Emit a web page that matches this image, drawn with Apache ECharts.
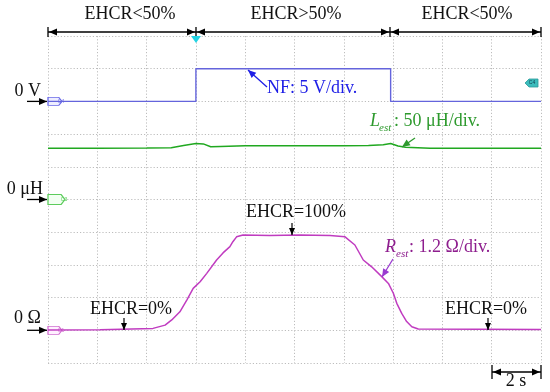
<!DOCTYPE html>
<html>
<head>
<meta charset="utf-8">
<script src="https://cdn.jsdelivr.net/npm/echarts@6/dist/echarts.min.js"></script>
<style>
html,body{margin:0;padding:0;background:#fff;}
#chart{width:550px;height:392px;}
</style>
</head>
<body>
<div id="chart"></div>
<script>
// ---- data (time in s, 2 s/div) ----
const nfTime = [0, 6.0, 6.0, 13.9, 13.9, 20];
const nfVolt = [0, 0, 5, 5, 0, 0];

const lestTime = [0, 2, 4, 5.0, 5.5, 6.0, 6.3, 6.6, 7.0, 8, 10, 12, 13.0, 13.6, 13.9, 14.2, 14.5, 15.5, 18, 20];
const lestMicroH = [78.3, 78.3, 78.6, 79, 82.6, 85.6, 85, 80.7, 81.2, 82, 82, 82, 82.6, 83.8, 85.6, 81.8, 79.8, 78.3, 78.3, 78.3];

const restTime = [0, 2.11, 4.26, 4.75, 5.02, 5.35, 5.63, 5.89, 6.17, 6.44, 6.84, 7.10, 7.38, 7.50, 7.65, 7.91, 9.0, 10.2, 11.44, 12.05, 12.45, 12.79, 13.13, 13.54, 13.81, 14.01, 14.15, 14.35, 14.55, 14.76, 15.02, 20];
const restOhm = [0.01, 0.02, 0.07, 0.19, 0.38, 0.68, 1.11, 1.54, 1.78, 2.09, 2.58, 2.84, 3.07, 3.25, 3.43, 3.50, 3.48, 3.50, 3.48, 3.43, 3.13, 2.58, 2.33, 1.97, 1.72, 1.36, 0.99, 0.62, 0.32, 0.13, 0.05, 0.03];

const regionLabels = ['EHCR<50%', 'EHCR>50%', 'EHCR<50%'];
const channelTags = ['C4', 'C3', 'C1'];

const zip = (a, b) => a.map((v, i) => [v, b[i]]);

const SERIF = '"Liberation Serif", "DejaVu Serif", serif';
const BLUE_T = '#6464dc', GREEN_T = '#20a820', MAG_T = '#c03cc0';

function head(tx, ty, fx, fy, color, len, w) {
  len = len || 8; w = w || 3.5;
  const dx = tx - fx, dy = ty - fy, L = Math.hypot(dx, dy);
  const ux = dx / L, uy = dy / L, px = -uy, py = ux;
  const bx = tx - ux * len, by = ty - uy * len;
  return { type: 'polygon', shape: { points: [[tx, ty], [bx + px * w, by + py * w], [bx - px * w, by - py * w]] }, style: { fill: color }, z: 100 };
}
function arrow(x1, y1, x2, y2, color, lw, len, w) {
  return [
    { type: 'line', shape: { x1: x1, y1: y1, x2: x2, y2: y2 }, style: { stroke: color, lineWidth: lw || 1.2 }, z: 100 },
    head(x2, y2, x1, y1, color, len, w)
  ];
}
function dbl(x1, x2, y, color) {
  return [
    { type: 'line', shape: { x1: x1, y1: y, x2: x2, y2: y }, style: { stroke: color, lineWidth: 1.3 }, z: 100 },
    head(x1 + 1, y, x2, y, color, 8, 3.5),
    head(x2 - 1, y, x1, y, color, 8, 3.5)
  ];
}
function vbar(x, y1, y2) {
  return { type: 'line', shape: { x1: x, y1: y1, x2: x, y2: y2 }, style: { stroke: '#000', lineWidth: 1.3 }, z: 100 };
}
function txt(s, x, y, opt) {
  opt = opt || {};
  return { type: 'text', z: 100, style: { text: s, x: x, y: y, fill: opt.color || '#111', font: (opt.italic ? 'italic ' : '') + (opt.size || 18) + 'px ' + SERIF, align: opt.align || 'center', verticalAlign: 'middle' } };
}

const g = [];
// top region arrows
g.push(...dbl(48, 196, 32, '#000'), ...dbl(196, 390, 32, '#000'), ...dbl(390, 541, 32, '#000'));
[48, 196, 390, 541].forEach(x => g.push(vbar(x, 27, 37)));
g.push(txt(regionLabels[0], 130, 14), txt(regionLabels[1], 296, 14), txt(regionLabels[2], 467, 14));
// trigger marker
g.push({ type: 'polygon', shape: { points: [[191, 36], [201, 36], [196, 43]] }, style: { fill: '#22d4e4' }, z: 101 });
// right trigger level marker
g.push({ type: 'polygon', shape: { points: [[525, 83], [529, 79], [538, 79], [538, 87], [529, 87]] }, style: { fill: '#3cbcbc', stroke: '#2a9a9a', lineWidth: 0.8 }, z: 101 });
g.push({ type: 'text', z: 102, style: { text: 'C4', x: 532, y: 83, fill: '#145', font: '5px sans-serif', align: 'center', verticalAlign: 'middle' } });
// left zero-level labels
g.push(txt('0 V', 41, 91.5, { align: 'right' }), ...arrow(27, 101.4, 47, 101.4, '#000', 1.3));
g.push(txt('0 μH', 43, 189, { align: 'right' }), ...arrow(27, 199.5, 47, 199.5, '#000', 1.3));
g.push(txt('0 Ω', 41, 318, { align: 'right' }), ...arrow(27, 330.3, 47, 330.3, '#000', 1.3));
// NF label
g.push(txt('NF: 5 V/div.', 267, 88, { align: 'left', color: '#1e1ee6' }), ...arrow(267, 87, 248, 70, '#1e1ee6', 1.3));
// Lest label
g.push(txt('L', 370, 121, { align: 'left', italic: true, color: '#2e9a2e' }),
       txt('est', 379, 128, { align: 'left', italic: true, size: 11, color: '#2e9a2e' }),
       txt(': 50 μH/div.', 394, 121, { align: 'left', color: '#2e9a2e' }),
       ...arrow(415, 138, 402, 147, '#2e9a2e', 1.3));
// Rest label
g.push(txt('R', 385, 247, { align: 'left', italic: true, color: '#8e1e8e' }),
       txt('est', 396, 254, { align: 'left', italic: true, size: 11, color: '#8e1e8e' }),
       txt(': 1.2 Ω/div.', 409, 247, { align: 'left', color: '#8e1e8e' }),
       ...arrow(393, 259, 382, 277, '#9a3ad0', 1.3));
// EHCR annotations
g.push(txt('EHCR=100%', 296, 212), ...arrow(292, 223, 292, 235, '#000', 1.2, 7, 3));
g.push(txt('EHCR=0%', 131, 309), ...arrow(124, 318, 124, 330, '#000', 1.2, 7, 3));
g.push(txt('EHCR=0%', 486, 309), ...arrow(488, 318, 488, 330, '#000', 1.2, 7, 3));
// time scale
g.push(...dbl(492, 541, 372, '#000'), vbar(492, 365, 379), vbar(541, 365, 379), txt('2 s', 516, 381));

function tag(label, color, fill, size) {
  return {
    silent: true, animation: false,
    symbol: 'path://M0,0 L10,0 L13,4 L10,8 L0,8 Z',
    data: [{ coord: [0, 0], symbolSize: size, symbolOffset: [size[0] / 2, 0],
      itemStyle: { color: fill, borderColor: color, borderWidth: 1 },
      label: { show: true, formatter: label, fontSize: 5, color: color, offset: [size[0] / 2 - 1, 0] } }]
  };
}

const hiddenY = (min, max) => ({ type: 'value', min: min, max: max, show: false, splitLine: { show: false } });

const option = {
  animation: false,
  backgroundColor: '#fff',
  grid: { left: 48, right: 9, top: 36, bottom: 29 },
  xAxis: {
    type: 'value', min: 0, max: 20, interval: 2,
    axisLine: { show: false }, axisTick: { show: false }, axisLabel: { show: false },
    splitLine: { show: true, lineStyle: { color: '#bdbdbd', type: [1.2, 2], width: 1 } }
  },
  yAxis: [
    { type: 'value', min: 0, max: 10, interval: 1,
      axisLine: { show: false }, axisTick: { show: false }, axisLabel: { show: false },
      splitLine: { show: true, lineStyle: { color: '#bdbdbd', type: [1.2, 2], width: 1 } } },
    hiddenY(-40, 10),
    hiddenY(-250, 250),
    hiddenY(-1.2, 10.8)
  ],
  series: [
    { name: 'NF', type: 'line', yAxisIndex: 1, data: zip(nfTime, nfVolt), showSymbol: false,
      lineStyle: { color: BLUE_T, width: 1.4 }, z: 5,
      markPoint: tag(channelTags[0], '#6a6ae8', '#eef', [14, 8]) },
    { name: 'Lest', type: 'line', yAxisIndex: 2, data: zip(lestTime, lestMicroH), showSymbol: false,
      lineStyle: { color: GREEN_T, width: 1.5 }, z: 5,
      markPoint: tag(channelTags[1], '#5ccc5c', '#f2fff2', [17, 10]) },
    { name: 'Rest', type: 'line', yAxisIndex: 3, data: zip(restTime, restOhm), showSymbol: false,
      lineStyle: { color: MAG_T, width: 1.5 }, z: 5,
      markPoint: tag(channelTags[2], '#d070d0', '#fff0ff', [14, 8]) }
  ],
  graphic: g
};

const chart = echarts.init(document.getElementById('chart'), null, { renderer: 'canvas' });
chart.setOption(option);
</script>
</body>
</html>
